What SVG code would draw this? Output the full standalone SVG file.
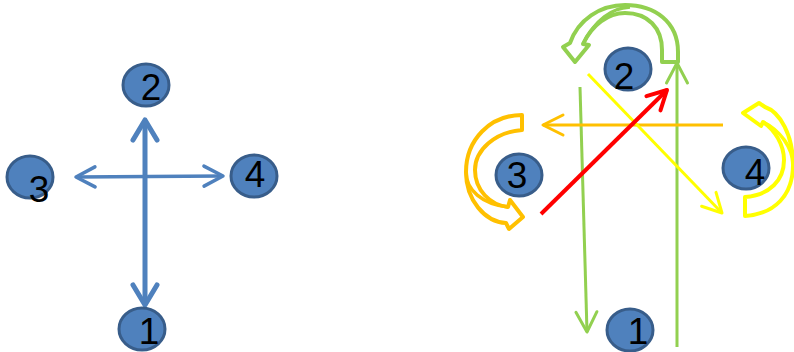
<svg xmlns="http://www.w3.org/2000/svg" width="794" height="352" viewBox="0 0 794 352">
<style>
.node{fill:#4F81BD;stroke:#385D8A;stroke-width:3}
.lbl{font-family:"Liberation Sans",Arial,sans-serif;font-size:37px;fill:#000;text-anchor:middle}
.ln{fill:none;stroke-linecap:butt}
.blk{fill:#fff;stroke-width:4;stroke-linejoin:round}
</style>
<defs>
<marker id="mBlueL" markerUnits="userSpaceOnUse" viewBox="-30 -20 40 40" markerWidth="40" markerHeight="40" refX="0" refY="0" orient="auto-start-reverse"><path d="M-20,-12 L0,0 L-20,12" fill="none" stroke="#4F81BD" stroke-width="5" stroke-linecap="round" stroke-linejoin="round"/></marker>
<marker id="mBlueS" markerUnits="userSpaceOnUse" viewBox="-30 -20 40 40" markerWidth="40" markerHeight="40" refX="0" refY="0" orient="auto-start-reverse"><path d="M-19,-10 L0,0 L-19,10" fill="none" stroke="#4F81BD" stroke-width="3.5" stroke-linecap="round" stroke-linejoin="round"/></marker>
<marker id="mGreen" markerUnits="userSpaceOnUse" viewBox="-30 -20 40 40" markerWidth="40" markerHeight="40" refX="0" refY="0" orient="auto"><path d="M-20,-10.5 L0,0 L-20,10.5" fill="none" stroke="#92D050" stroke-width="3" stroke-linecap="round" stroke-linejoin="round"/></marker>
<marker id="mRed" markerUnits="userSpaceOnUse" viewBox="-30 -20 40 40" markerWidth="40" markerHeight="40" refX="0" refY="0" orient="auto"><path d="M-19,-10 L0,0 L-19,10" fill="none" stroke="#FF0000" stroke-width="4" stroke-linecap="round" stroke-linejoin="round"/></marker>
<marker id="mYellow" markerUnits="userSpaceOnUse" viewBox="-30 -20 40 40" markerWidth="40" markerHeight="40" refX="0" refY="0" orient="auto"><path d="M-19,-10 L0,0 L-19,10" fill="none" stroke="#FFFF00" stroke-width="3" stroke-linecap="round" stroke-linejoin="round"/></marker>
<marker id="mOrange" markerUnits="userSpaceOnUse" viewBox="-30 -20 40 40" markerWidth="40" markerHeight="40" refX="0" refY="0" orient="auto"><path d="M-20,-10 L0,0 L-20,10" fill="none" stroke="#FFC000" stroke-width="3" stroke-linecap="round" stroke-linejoin="round"/></marker>
</defs>

<g id="connectors">
  <line class="ln" x1="145" y1="120" x2="145" y2="305" stroke="#4F81BD" stroke-width="5" marker-start="url(#mBlueL)" marker-end="url(#mBlueL)"/>
  <line class="ln" x1="76" y1="177" x2="223" y2="176" stroke="#4F81BD" stroke-width="3.5" marker-start="url(#mBlueS)" marker-end="url(#mBlueS)"/>
  <line class="ln" x1="580" y1="87" x2="587" y2="332" stroke="#92D050" stroke-width="3" marker-end="url(#mGreen)"/>
  <line class="ln" x1="677" y1="347" x2="677" y2="63" stroke="#92D050" stroke-width="3" marker-end="url(#mGreen)"/>
  <line class="ln" x1="723" y1="125" x2="543" y2="125" stroke="#FFC000" stroke-width="3" marker-end="url(#mOrange)"/>
  <line class="ln" x1="588" y1="74" x2="722" y2="213" stroke="#FFFF00" stroke-width="3" marker-end="url(#mYellow)"/>
  <line class="ln" x1="541" y1="214" x2="667" y2="90" stroke="#FF0000" stroke-width="4" marker-end="url(#mRed)"/>
  <path id="loop2" class="blk" stroke="#92D050" d="M662,62 L678,62 L678,52 C678,22 655,5 625,5 C600,5 578,20 570,43 L563,47 L575,62 L589,45 L583,44 C592,25 608,13 625,13 C648,13 662,28 662,50 Z"/>
  <path class="ln" stroke="#92D050" stroke-width="3.5" d="M583,44 C595,20 612,8 630,7"/>
  <path id="loop3" class="blk" stroke="#FFC000" d="M522,115 L522,130 C495,132 475,150 475,170 C475,190 490,205 508,207 L510,200 L523,217 L509,229 L506,223 C485,222 466,200 466,172 C466,140 490,115 522,115 Z"/>
  <path class="ln" stroke="#FFC000" stroke-width="3.5" d="M508,207 C482,204 466,190 466,172"/>
  <path id="loop4" class="blk" stroke="#FFFF00" d="M745,197 L745,216 C775,214 793,195 793,165 C793,135 780,112 765,107 L759,103 L743,113 L761,126 L763,122 C775,130 784,145 784,160 C784,180 770,195 745,197 Z"/>
  <path class="ln" stroke="#FFFF00" stroke-width="3.5" d="M763,122 C780,130 793,148 793,165"/>
</g>

<g id="L2"><ellipse class="node" cx="146" cy="85" rx="23" ry="21"/><text class="lbl" x="151" y="100">2</text></g>
<g id="L3"><ellipse class="node" cx="30" cy="177" rx="23" ry="21"/><text class="lbl" x="39" y="202">3</text></g>
<g id="L4"><ellipse class="node" cx="254" cy="176" rx="23" ry="21"/><text class="lbl" x="255" y="187">4</text></g>
<g id="L1"><ellipse class="node" cx="142" cy="329" rx="23" ry="21"/><text class="lbl" x="149" y="344">1</text></g>

<g id="R2"><ellipse class="node" cx="628" cy="69" rx="23" ry="21"/><text class="lbl" x="624" y="89">2</text></g>
<g id="R3"><ellipse class="node" cx="519" cy="175" rx="23" ry="21"/><text class="lbl" x="517" y="188">3</text></g>
<g id="R4"><ellipse class="node" cx="746" cy="168" rx="23" ry="21"/><text class="lbl" x="755" y="185">4</text></g>
<g id="R1"><ellipse class="node" cx="630" cy="330" rx="23" ry="21"/><text class="lbl" x="638" y="344">1</text></g>
</svg>
